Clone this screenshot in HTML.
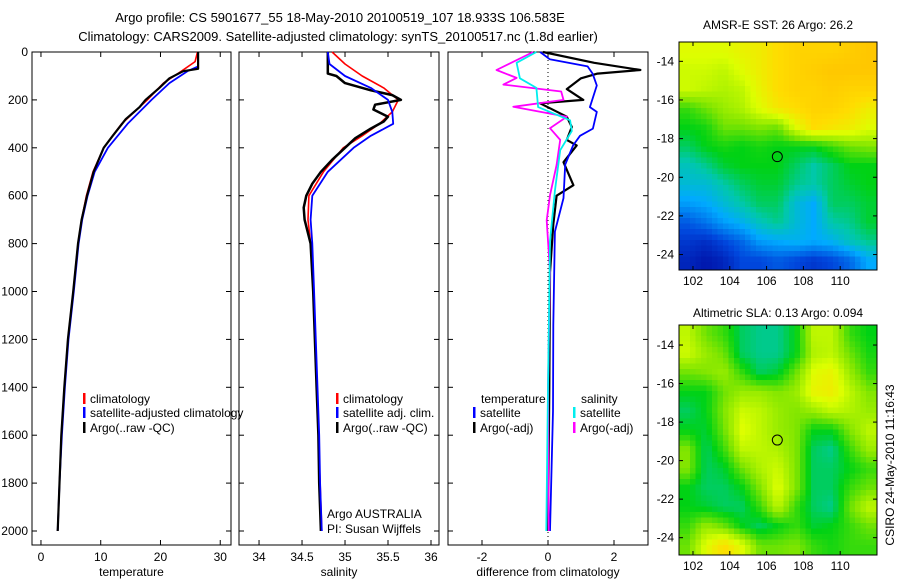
<!DOCTYPE html>
<html><head><meta charset="utf-8"><style>
body{margin:0;background:#fff;}
svg{display:block;font-family:"Liberation Sans",sans-serif;}
</style></head><body>
<svg id="fig" width="900" height="580" viewBox="0 0 900 580">
<text x="340" y="22" font-size="13" text-anchor="middle">Argo profile: CS 5901677_55 18-May-2010 20100519_107 18.933S 106.583E</text>
<text x="338" y="41" font-size="13" text-anchor="middle">Climatology: CARS2009. Satellite-adjusted climatology: synTS_20100517.nc (1.8d earlier)</text>
<text x="778" y="29" font-size="12" text-anchor="middle">AMSR-E SST: 26 Argo: 26.2</text>
<text x="778" y="317" font-size="12" text-anchor="middle">Altimetric SLA: 0.13 Argo: 0.094</text>
<text transform="translate(894,465) rotate(-90)" font-size="12" text-anchor="middle">CSIRO 24-May-2010 11:16:43</text>
</svg>
<script>
// ---------- data ----------
const tDepth=[0,70,80,110,150,200,230,280,350,400,500,600,700,800,1000,1200,1400,1600,1800,2000];
const tArgo=[26.3,26.3,23.8,21.5,19.8,17.5,16.5,14.2,12,10.5,8.8,7.7,6.8,6.2,5.4,4.5,3.9,3.4,3.1,2.8];
const tClimDepth=[0,40,80,130,200,300,400,500,600,700,800,1000,1200,1400,1600,1800,2000];
const tClim=[26.2,25.8,23.5,20.5,17.8,13.5,10.5,8.7,7.6,6.8,6.2,5.4,4.5,3.9,3.4,3.1,2.8];
const tSatDepth=[0,60,80,130,200,300,400,500,600,700,800,1000,1200,1400,1600,1800,2000];
const tSat=[26.3,26.3,24.5,21.5,18.5,14.5,11.2,9.0,7.8,6.9,6.3,5.5,4.6,4.0,3.5,3.1,2.8];

const sDepth=[0,20,60,90,100,130,160,180,200,220,240,270,290,320,360,400,450,500,550,600,650,700,800,1000,1200,1400,1600,1800,2000];
const sArgo=[34.80,34.80,34.80,34.80,34.9,35.0,35.3,35.55,35.65,35.35,35.33,35.5,35.45,35.3,35.12,35.0,34.85,34.72,34.62,34.55,34.52,34.53,34.6,34.63,34.65,34.67,34.69,34.7,34.72];
const sClimDepth=[0,50,100,150,200,250,300,350,400,500,600,700,800,1000,1200,1400,1600,1800,2000];
const sClim=[34.85,35.0,35.2,35.45,35.62,35.55,35.4,35.2,34.98,34.75,34.58,34.57,34.6,34.63,34.65,34.67,34.69,34.71,34.73];
const sSat=[34.8,34.82,35.0,35.3,35.5,35.55,35.56,35.3,35.1,34.8,34.62,34.6,34.62,34.64,34.66,34.68,34.7,34.71,34.73];

const dTSatDepth=[0,30,60,90,140,230,250,320,350,390,470,610,750,1140,1500,2000];
const dTSat=[-0.24,0.05,1.2,1.35,1.48,1.27,1.48,1.36,0.97,0.76,0.52,0.47,0.21,0.16,0.15,0.06];
const dTArgoDepth=[0,45,75,90,110,155,200,214,270,313,367,390,460,556,600,720,920,1400,2000];
const dTArgo=[-0.15,1.4,2.8,1.5,1.0,0.57,1.07,-0.24,0.57,0.72,0.57,0.87,0.47,0.77,0.26,0.16,0.06,0.04,0.0];
const dSSatDepth=[0,45,110,150,230,285,330,410,580,790,1400,2000];
const dSSat=[-0.35,-0.95,-0.85,-0.35,-0.3,0.67,0.72,0.37,0.21,0.06,0.0,-0.05];
const dSArgoDepth=[0,75,108,136,165,200,229,270,318,367,472,598,703,918,1400,2000];
const dSArgo=[-0.45,-1.56,-0.95,-1.35,0.4,0.47,-1.05,0.57,0.06,0.37,0.26,0.06,-0.04,0.06,0.0,0.02];

const depthTicks=[0,200,400,600,800,1000,1200,1400,1600,1800,2000];
const tTicks=[0,10,20,30];
const sTicks=[34,34.5,35,35.5,36];
const sTickLabels=["34","34.5","35","35.5","36"];
const dTicks=[-2,0,2];

const latTicks=[14,16,18,20,22,24];
const lonTicks=[102,104,106,108,110];
const argoLon=106.583, argoLat=18.933;
const sstGrid=[
[.75,.75,.75,.78,.8,.85,.88,.88,.88,.9,.92],
[.72,.72,.7,.75,.8,.85,.88,.9,.92,.92,.92],
[.72,.7,.68,.7,.78,.85,.88,.88,.9,.88,.88],
[.55,.6,.65,.68,.75,.82,.85,.88,.88,.85,.8],
[.5,.52,.6,.6,.62,.6,.75,.85,.82,.8,.75],
[.45,.5,.52,.5,.52,.5,.5,.5,.55,.6,.62],
[.38,.42,.48,.5,.5,.5,.45,.4,.45,.5,.5],
[.35,.35,.4,.45,.48,.48,.42,.4,.45,.48,.5],
[.28,.3,.35,.4,.45,.45,.35,.3,.45,.45,.48],
[.18,.22,.28,.32,.38,.42,.35,.3,.4,.42,.48],
[.12,.1,.15,.2,.28,.3,.32,.3,.32,.38,.42],
[.08,.05,.08,.15,.15,.18,.15,.12,.15,.2,.3]];
const slaGrid=[
[.7,.6,.55,.45,.42,.42,.5,.7,.7,.55,.5],
[.72,.65,.6,.45,.42,.42,.5,.68,.7,.6,.52],
[.6,.62,.65,.55,.45,.48,.6,.75,.78,.65,.55],
[.5,.5,.6,.65,.65,.62,.65,.78,.8,.7,.62],
[.45,.5,.62,.72,.7,.65,.62,.65,.7,.68,.65],
[.5,.48,.6,.75,.7,.65,.62,.5,.5,.62,.7],
[.62,.45,.55,.7,.7,.68,.62,.45,.42,.55,.65],
[.62,.45,.48,.6,.68,.72,.62,.45,.45,.5,.55],
[.5,.45,.45,.5,.62,.75,.62,.45,.45,.55,.6],
[.5,.48,.45,.45,.55,.7,.55,.45,.42,.6,.7],
[.55,.65,.6,.5,.45,.5,.55,.48,.5,.55,.6],
[.6,.75,.85,.75,.6,.6,.62,.55,.52,.55,.55]];

// ---------- helpers ----------
const NS="http://www.w3.org/2000/svg";
const svg=document.getElementById('fig');
function mk(tag,attrs,parent){const e=document.createElementNS(NS,tag);for(const k in attrs)e.setAttribute(k,attrs[k]);(parent||svg).appendChild(e);return e;}
const Y0=52, DS=0.2395, YB=545;
function yD(d){return Y0+d*DS;}

function panel(name,x0,x1,xmin,xmax,ticks,labels,xlabel,showY){
  const g=mk('g',{});
  
  
  const sx=v=>x0+(v-xmin)/(xmax-xmin)*(x1-x0);
  const fr=mk('rect',{x:x0,y:Y0,width:x1-x0,height:YB-Y0,fill:'none',stroke:'#000','stroke-width':1},g);
  
  
  ticks.forEach((t,i)=>{
    const x=sx(t);
    mk('line',{x1:x,x2:x,y1:YB,y2:YB-5,stroke:'#000'},g);
    mk('line',{x1:x,x2:x,y1:Y0,y2:Y0+5,stroke:'#000'},g);
    const tl=mk('text',{x:x,y:YB+16,'font-size':12,'text-anchor':'middle'},g);
    tl.textContent=labels[i];
    
    
  });
  depthTicks.forEach(d=>{
    const y=yD(d);
    mk('line',{x1:x0,x2:x0+5,y1:y,y2:y,stroke:'#000'},g);
    mk('line',{x1:x1,x2:x1-5,y1:y,y2:y,stroke:'#000'},g);
    if(showY){const tl=mk('text',{x:x0-4,y:y+4,'font-size':12,'text-anchor':'end'},g);tl.textContent=d;
      
      }
  });
  const xl=mk('text',{x:(x0+x1)/2,y:576,'font-size':12,'text-anchor':'middle'},g);
  xl.textContent=xlabel;
  
  
  return {g,sx};
}
function line(p,depths,vals,color,w,name){
  const pts=depths.map((d,i)=>p.sx(vals[i]).toFixed(1)+','+yD(d).toFixed(1)).join(' ');
  const l=mk('polyline',{points:pts,fill:'none',stroke:color,'stroke-width':w,'stroke-linejoin':'round'},p.g);
  
  
}
function leg(x,y,color,text,name){
  const r=mk('rect',{x:x,y:y-10,width:2.5,height:11,fill:color});
  
  
  const t=mk('text',{x:x+7,y:y,'font-size':12});
  t.textContent=text;
  
  
}

// temperature panel
const pT=panel('temperature-panel',32,231,-1.5,31.8,tTicks,tTicks.map(String),'temperature',true);
line(pT,tClimDepth,tClim,'#f00',1.6,'temp-climatology-line');
line(pT,tSatDepth,tSat,'#00f',1.8,'temp-satellite-line');
line(pT,tDepth,tArgo,'#000',2.2,'temp-argo-line');
// salinity panel
const pS=panel('salinity-panel',239,439,33.767,36.093,sTicks,sTickLabels,'salinity',false);
line(pS,sClimDepth,sClim,'#f00',1.6,'sal-climatology-line');
line(pS,sDepth,sArgo,'#000',2.5,'sal-argo-line');
line(pS,sClimDepth,sSat,'#00f',1.8,'sal-satellite-line');
// difference panel
const pD=panel('difference-panel',448,648,-3.03,3.03,dTicks,dTicks.map(String),'difference from climatology',false);
const zl=mk('line',{x1:pD.sx(0),x2:pD.sx(0),y1:Y0,y2:YB,stroke:'#000','stroke-dasharray':'1,3'},pD.g);


line(pD,dTArgoDepth,dTArgo,'#000',2.2,'diff-temp-argo-line');
line(pD,dTSatDepth,dTSat,'#00f',1.8,'diff-temp-satellite-line');
line(pD,dSArgoDepth,dSArgo,'#f0f',1.8,'diff-sal-argo-line');
line(pD,dSSatDepth,dSSat,'#0ee',1.8,'diff-sal-satellite-line');

// legends
leg(83,403,'#f00','climatology','legend-t-climatology');
leg(83,417,'#00f','satellite-adjusted climatology','legend-t-satellite');
leg(83,432,'#000','Argo(..raw -QC)','legend-t-argo');
leg(336,403,'#f00','climatology','legend-s-climatology');
leg(336,417,'#00f','satellite adj. clim.','legend-s-satellite');
leg(336,432,'#000','Argo(..raw -QC)','legend-s-argo');
(function(){const t=mk('text',{x:481,y:403,'font-size':12});t.textContent='temperature';

const s=mk('text',{x:581,y:403,'font-size':12});s.textContent='salinity';
})();
leg(473,417,'#00f','satellite','legend-d-temp-satellite');
leg(473,432,'#000','Argo(-adj)','legend-d-temp-argo');
leg(573,417,'#0ee','satellite','legend-d-sal-satellite');
leg(573,432,'#f0f','Argo(-adj)','legend-d-sal-argo');
(function(){const a=mk('text',{x:327,y:518,'font-size':12});a.textContent='Argo AUSTRALIA';

const b=mk('text',{x:327,y:533,'font-size':12});b.textContent='PI: Susan Wijffels';
})();

// ---------- maps ----------
const cmStops=[[0,[0,0,150]],[0.15,[0,70,220]],[0.3,[0,170,255]],[0.4,[0,200,170]],[0.5,[0,210,20]],[0.62,[130,230,0]],[0.74,[220,255,0]],[0.85,[255,220,0]],[1,[255,175,0]]];
function cmap(v){v=Math.max(0,Math.min(1,v));for(let i=1;i<cmStops.length;i++){if(v<=cmStops[i][0]){const a=cmStops[i-1],b=cmStops[i];const f=(v-a[0])/(b[0]-a[0]);const c=a[1].map((x,j)=>Math.round(x+(b[1][j]-x)*f));return 'rgb('+c.join(',')+')';}}return 'rgb(255,175,0)';}
function sample(grid,r,c){const R=grid.length,C=grid[0].length;r=Math.max(0,Math.min(R-1,r));c=Math.max(0,Math.min(C-1,c));
 const r0=Math.floor(r),c0=Math.floor(c),r1=Math.min(R-1,r0+1),c1=Math.min(C-1,c0+1),fr=r-r0,fc=c-c0;
 return grid[r0][c0]*(1-fr)*(1-fc)+grid[r0][c1]*(1-fr)*fc+grid[r1][c0]*fr*(1-fc)+grid[r1][c1]*fr*fc;}
function map(name,grid,x0,x1,y0,y1,lonMin,lonMax,latMin,latMax){
  const g=mk('g',{});
  
  
  const sx=v=>x0+(v-lonMin)/(lonMax-lonMin)*(x1-x0);
  const sy=v=>y0+(v-latMin)/(latMax-latMin)*(y1-y0);
  const R=grid.length,C=grid[0].length,step=5.5;
  for(let y=y0;y<y1;y+=step){for(let x=x0;x<x1;x+=step){
    const lat=latMin+(y+step/2-y0)/(y1-y0)*(latMax-latMin);
    const lon=lonMin+(x+step/2-x0)/(x1-x0)*(lonMax-lonMin);
    const r=(lat-latMin)/(latMax-latMin)*R-0.5, c=(lon-lonMin)/(lonMax-lonMin)*C-0.5;
    const cell=mk('rect',{x:x.toFixed(1),y:y.toFixed(1),width:Math.min(step+0.3,x1-x),height:Math.min(step+0.3,y1-y),fill:cmap(sample(grid,r,c))},g);
    
    
  }}
  const fr=mk('rect',{x:x0,y:y0,width:x1-x0,height:y1-y0,fill:'none',stroke:'#000'},g);
  
  
  latTicks.forEach(t=>{const y=sy(t);mk('line',{x1:x0,x2:x0+4,y1:y,y2:y,stroke:'#000'},g);mk('line',{x1:x1,x2:x1-4,y1:y,y2:y,stroke:'#000'},g);
    const tl=mk('text',{x:x0-5,y:y+4,'font-size':12,'text-anchor':'end'},g);tl.textContent='-'+t;
    });
  lonTicks.forEach(t=>{const x=sx(t);mk('line',{x1:x,x2:x,y1:y1,y2:y1-4,stroke:'#000'},g);mk('line',{x1:x,x2:x,y1:y0,y2:y0+4,stroke:'#000'},g);
    const tl=mk('text',{x:x,y:y1+15,'font-size':12,'text-anchor':'middle'},g);tl.textContent=t;
    });
  const c=mk('circle',{cx:sx(argoLon),cy:sy(argoLat),r:5,fill:'none',stroke:'#000','stroke-width':1},g);
  
  
}
map('sst-map',sstGrid,679,877,42,270,101.24,112.0,13.0,24.8);
map('sla-map',slaGrid,679,877,325,555,101.24,112.0,12.96,24.9);
</script>
</body></html>
